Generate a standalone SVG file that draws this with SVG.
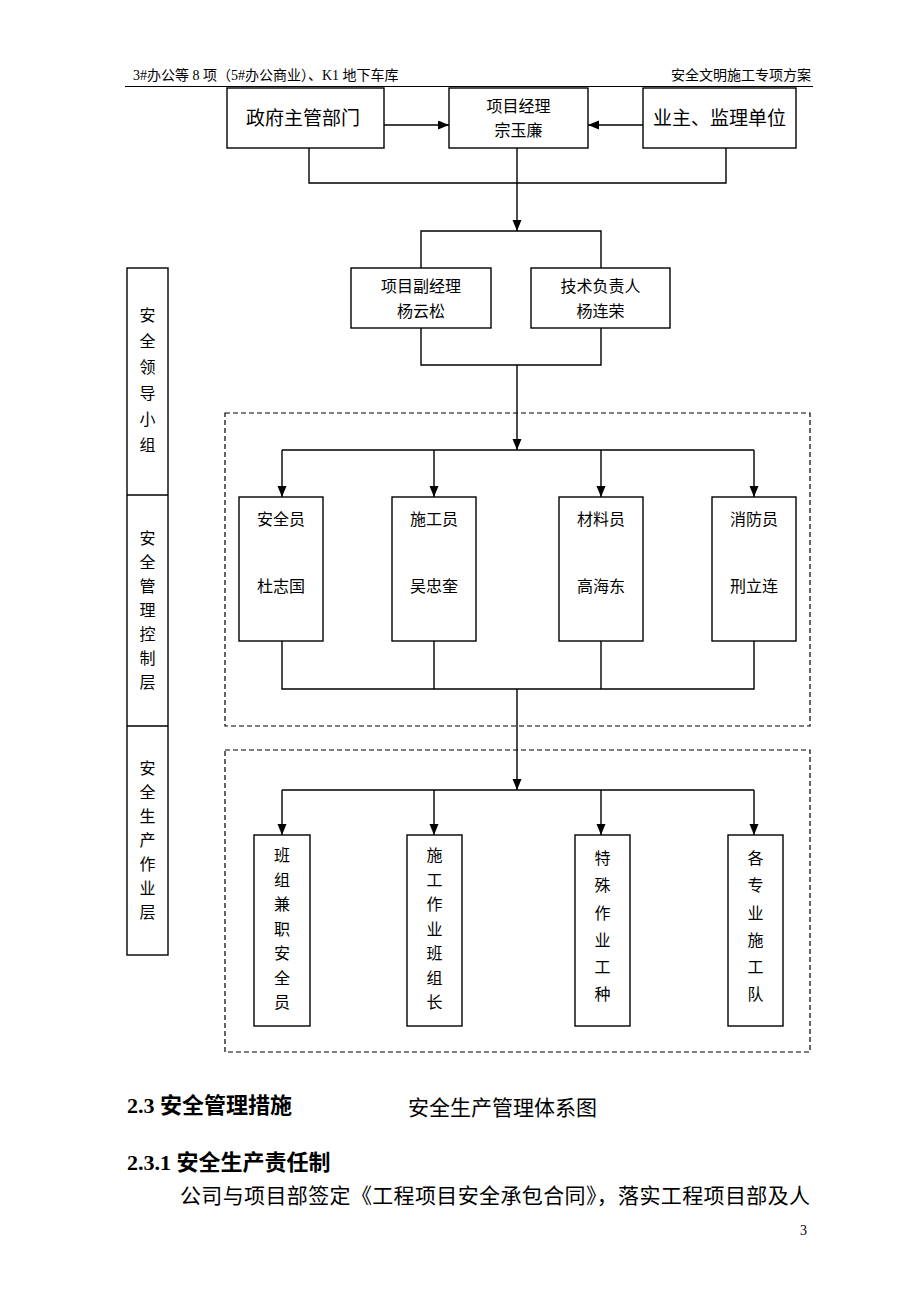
<svg xmlns="http://www.w3.org/2000/svg" width="920" height="1302" viewBox="0 0 920 1302">
<style>
.box{fill:#fff;stroke:#000;stroke-width:1.4}
.dash{fill:none;stroke:#000;stroke-width:1.2;stroke-dasharray:5,3}
.ln{fill:none;stroke:#000;stroke-width:1.4}
text{font-family:"Liberation Serif","Noto Sans CJK SC",serif;fill:#000}
.c{text-anchor:middle}
.t16{font-size:16px}
.t19{font-size:19px}
.hd{font-size:14px}
.b{font-weight:bold;font-size:22px}
.body{font-size:21px}
</style>
<defs>
<marker id="ah" markerUnits="userSpaceOnUse" markerWidth="12" markerHeight="10" refX="11" refY="4.5" orient="auto">
<path d="M0,0 L11,4.5 L0,9 z" fill="#000"/>
</marker>
</defs>
<rect width="920" height="1302" fill="#fff"/>
<g id="header">
<text class="hd" x="133" y="80">3#办公等 8 项（5#办公商业）、K1 地下车库</text>
<text class="hd" x="811" y="80" text-anchor="end">安全文明施工专项方案</text>
<line x1="125" y1="86.5" x2="813" y2="86.5" stroke="#000" stroke-width="1.2"/>
</g>
<g id="frames">
<rect class="dash" x="225" y="413" width="585" height="313"/>
<rect class="dash" x="225" y="750" width="585" height="302"/>
</g>
<g id="side-panel">
<rect class="box" x="127" y="268" width="41" height="687"/>
<line class="ln" x1="127" y1="495" x2="168" y2="495"/>
<line class="ln" x1="127" y1="726" x2="168" y2="726"/>
<g class="t16 c">
<text x="147.5" y="321">安</text><text x="147.5" y="347">全</text><text x="147.5" y="373">领</text><text x="147.5" y="399">导</text><text x="147.5" y="425">小</text><text x="147.5" y="451">组</text>
<text x="147.5" y="544">安</text><text x="147.5" y="568">全</text><text x="147.5" y="592">管</text><text x="147.5" y="616">理</text><text x="147.5" y="640">控</text><text x="147.5" y="664">制</text><text x="147.5" y="688">层</text>
<text x="147.5" y="774">安</text><text x="147.5" y="798">全</text><text x="147.5" y="822">生</text><text x="147.5" y="846">产</text><text x="147.5" y="870">作</text><text x="147.5" y="894">业</text><text x="147.5" y="918">层</text>
</g>
</g>
<g id="connectors">
<line class="ln" x1="384" y1="125" x2="449" y2="125" marker-end="url(#ah)"/>
<line class="ln" x1="643" y1="125" x2="588" y2="125" marker-end="url(#ah)"/>
<polyline class="ln" points="309,148 309,183 726,183 726,148"/>
<line class="ln" x1="517" y1="148" x2="517" y2="231" marker-end="url(#ah)"/>
<polyline class="ln" points="421,268 421,231 601,231 601,268"/>
<polyline class="ln" points="421,328 421,365 601,365 601,328"/>
<line class="ln" x1="517" y1="365" x2="517" y2="450" marker-end="url(#ah)"/>
<line class="ln" x1="282" y1="450" x2="754" y2="450"/>
<line class="ln" x1="282" y1="450" x2="282" y2="497" marker-end="url(#ah)"/>
<line class="ln" x1="434" y1="450" x2="434" y2="497" marker-end="url(#ah)"/>
<line class="ln" x1="601" y1="450" x2="601" y2="497" marker-end="url(#ah)"/>
<line class="ln" x1="754" y1="450" x2="754" y2="497" marker-end="url(#ah)"/>
<polyline class="ln" points="282,641 282,689 754,689 754,641"/>
<line class="ln" x1="434" y1="641" x2="434" y2="689"/>
<line class="ln" x1="601" y1="641" x2="601" y2="689"/>
<line class="ln" x1="517" y1="689" x2="517" y2="790" marker-end="url(#ah)"/>
<line class="ln" x1="282" y1="790" x2="754" y2="790"/>
<line class="ln" x1="282" y1="790" x2="282" y2="835" marker-end="url(#ah)"/>
<line class="ln" x1="434" y1="790" x2="434" y2="835" marker-end="url(#ah)"/>
<line class="ln" x1="601" y1="790" x2="601" y2="835" marker-end="url(#ah)"/>
<line class="ln" x1="754" y1="790" x2="754" y2="835" marker-end="url(#ah)"/>
</g>
<g id="gov">
<rect class="box" x="227" y="88" width="157" height="60"/>
<text class="t19 c" x="303" y="125">政府主管部门</text>
</g>
<g id="pm">
<rect class="box" x="449" y="88" width="139" height="60"/>
<text class="t16 c" x="518.5" y="112">项目经理</text>
<text class="t16 c" x="518.5" y="136">宗玉廉</text>
</g>
<g id="owner">
<rect class="box" x="643" y="88" width="153" height="60"/>
<text class="t19 c" x="719.5" y="125">业主、监理单位</text>
</g>
<g id="deputy">
<rect class="box" x="351" y="268" width="140" height="60"/>
<text class="t16 c" x="421" y="292">项目副经理</text>
<text class="t16 c" x="421" y="317">杨云松</text>
</g>
<g id="tech">
<rect class="box" x="531" y="268" width="139" height="60"/>
<text class="t16 c" x="600.5" y="292">技术负责人</text>
<text class="t16 c" x="600.5" y="317">杨连荣</text>
</g>
<g id="safety">
<rect class="box" x="239" y="497" width="84" height="144"/>
<text class="t16 c" x="281" y="525">安全员</text>
<text class="t16 c" x="281" y="592">杜志国</text>
</g>
<g id="construct">
<rect class="box" x="392" y="497" width="84" height="144"/>
<text class="t16 c" x="434" y="525">施工员</text>
<text class="t16 c" x="434" y="592">吴忠奎</text>
</g>
<g id="material">
<rect class="box" x="559" y="497" width="84" height="144"/>
<text class="t16 c" x="601" y="525">材料员</text>
<text class="t16 c" x="601" y="592">高海东</text>
</g>
<g id="fire">
<rect class="box" x="712" y="497" width="84" height="144"/>
<text class="t16 c" x="754" y="525">消防员</text>
<text class="t16 c" x="754" y="592">刑立连</text>
</g>
<g id="team-safety">
<rect class="box" x="254" y="835" width="56" height="191"/>
<g class="t16 c"><text x="282" y="861">班</text><text x="282" y="885.5">组</text><text x="282" y="910">兼</text><text x="282" y="934.5">职</text><text x="282" y="959">安</text><text x="282" y="983.5">全</text><text x="282" y="1008">员</text></g>
</g>
<g id="team-leader">
<rect class="box" x="407" y="835" width="55" height="191"/>
<g class="t16 c"><text x="434.5" y="861">施</text><text x="434.5" y="885.5">工</text><text x="434.5" y="910">作</text><text x="434.5" y="934.5">业</text><text x="434.5" y="959">班</text><text x="434.5" y="983.5">组</text><text x="434.5" y="1008">长</text></g>
</g>
<g id="special">
<rect class="box" x="575" y="835" width="55" height="191"/>
<g class="t16 c"><text x="602.5" y="864">特</text><text x="602.5" y="891">殊</text><text x="602.5" y="918.5">作</text><text x="602.5" y="945.5">业</text><text x="602.5" y="973">工</text><text x="602.5" y="1000">种</text></g>
</g>
<g id="teams">
<rect class="box" x="728" y="835" width="55" height="191"/>
<g class="t16 c"><text x="755.5" y="864">各</text><text x="755.5" y="891">专</text><text x="755.5" y="918.5">业</text><text x="755.5" y="945.5">施</text><text x="755.5" y="973">工</text><text x="755.5" y="1000">队</text></g>
</g>
<g id="body-text">
<text class="b" x="127" y="1113">2.3 安全管理措施</text>
<text class="body" x="408" y="1115">安全生产管理体系图</text>
<text class="b" x="127" y="1170">2.3.1 安全生产责任制</text>
<text class="body" x="180" y="1203" textLength="630" lengthAdjust="spacing">公司与项目部签定《工程项目安全承包合同》，落实工程项目部及人</text>
<text class="hd" x="800" y="1235">3</text>
</g>
</svg>
